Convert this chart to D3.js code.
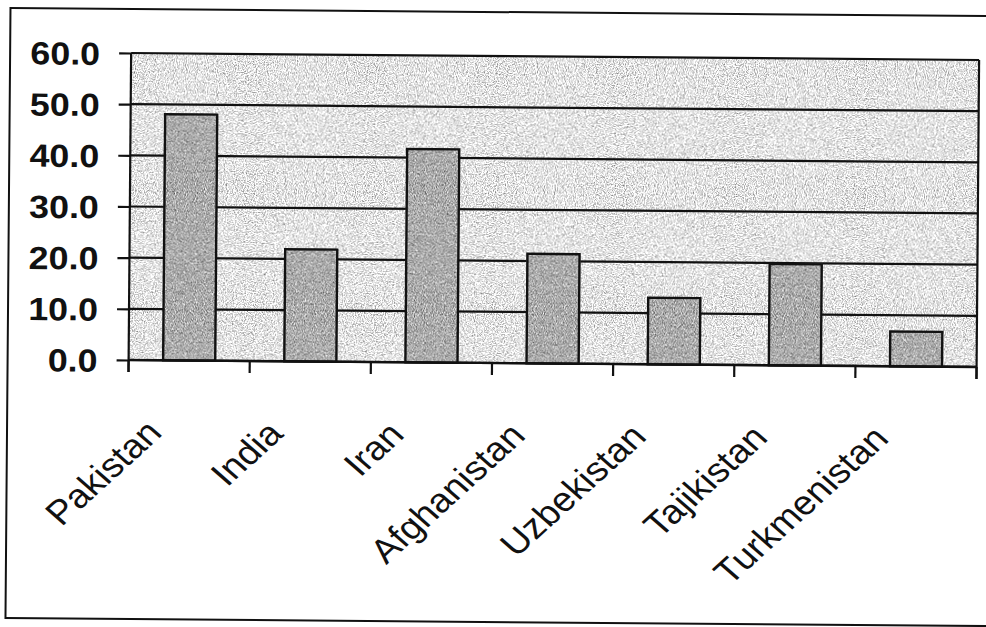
<!DOCTYPE html>
<html>
<head>
<meta charset="utf-8">
<script src="https://cdn.jsdelivr.net/npm/d3@7"></script>
<style>
  html, body { margin: 0; padding: 0; background: #ffffff; }
  svg { display: block; }
</style>
</head>
<body>
<svg id="chart" width="986" height="627"></svg>
<script>
// Country shares, percent
const categories = ["Pakistan", "India", "Iran", "Afghanistan", "Uzbekistan", "Tajikistan", "Turkmenistan"];
const values = [48.1, 21.9, 41.7, 21.4, 13.0, 19.8, 6.8];
const yTicks = [0, 10, 20, 30, 40, 50, 60];

const W = 986, H = 627;
const plot = { left: 129, right: 977, top: 56, bottom: 363 };
const stretch = 1.12;   // printed type runs a little wide
const fontFamily = "'Liberation Sans', Arial, sans-serif";

const svg = d3.select("#chart");

// grainy halftone fills
const defs = svg.append("defs");
function grain(id, mean, spread, seed) {
  const f = defs.append("filter").attr("id", id)
    .attr("x", 0).attr("y", 0).attr("width", 1).attr("height", 1)
    .attr("color-interpolation-filters", "sRGB");
  f.append("feTurbulence")
    .attr("type", "fractalNoise").attr("baseFrequency", 0.9)
    .attr("numOctaves", 2).attr("seed", seed).attr("result", "noise");
  const m = `${spread} 0 0 0 ${mean - spread / 2}`;
  f.append("feColorMatrix").attr("in", "noise").attr("type", "matrix")
    .attr("values", `${m} ${m} ${m} 0 0 0 0 1`);
}
grain("bgGrain", 0.89, 1.2, 3);
grain("barGrain", 0.67, 1.2, 7);

// whole sheet sits slightly askew on the page
const sheet = svg.append("g").attr("transform", `rotate(0.47 ${W / 2} ${H / 2})`);

// outer frame
sheet.append("rect")
  .attr("x", 8).attr("y", 12)
  .attr("width", 1010).attr("height", 610)
  .attr("fill", "none")
  .attr("stroke", "#111").attr("stroke-width", 2);

const x = d3.scaleBand()
  .domain(categories)
  .range([plot.left, plot.right])
  .paddingInner(0.57)
  .paddingOuter(0.285);

const y = d3.scaleLinear()
  .domain([0, 60])
  .range([plot.bottom, plot.top]);

// plot area background
sheet.append("rect")
  .attr("x", plot.left).attr("y", plot.top)
  .attr("width", plot.right - plot.left)
  .attr("height", plot.bottom - plot.top)
  .attr("fill", "#dcdcdc")
  .attr("filter", "url(#bgGrain)");

// horizontal gridlines and the frame's right edge
sheet.append("g")
  .selectAll("line")
  .data(yTicks)
  .join("line")
  .attr("x1", plot.left).attr("x2", plot.right)
  .attr("y1", d => y(d)).attr("y2", d => y(d))
  .attr("stroke", "#111").attr("stroke-width", 2.2);

sheet.append("line")
  .attr("x1", plot.right).attr("x2", plot.right)
  .attr("y1", plot.top).attr("y2", plot.bottom + 12)
  .attr("stroke", "#111").attr("stroke-width", 2.2);

// bars: grainy fill, then a crisp outline
const barG = sheet.append("g");
barG.selectAll("rect.fill")
  .data(categories)
  .join("rect")
  .attr("class", "fill")
  .attr("x", d => x(d))
  .attr("width", x.bandwidth())
  .attr("y", (d, i) => y(values[i]))
  .attr("height", (d, i) => y(0) - y(values[i]))
  .attr("fill", "#a8a8a8")
  .attr("filter", "url(#barGrain)");
barG.selectAll("rect.edge")
  .data(categories)
  .join("rect")
  .attr("class", "edge")
  .attr("x", d => x(d))
  .attr("width", x.bandwidth())
  .attr("y", (d, i) => y(values[i]))
  .attr("height", (d, i) => y(0) - y(values[i]))
  .attr("fill", "none")
  .attr("stroke", "#111").attr("stroke-width", 2.4);

// y axis
const yAxis = d3.axisLeft(y)
  .tickValues(yTicks)
  .tickFormat(d3.format(".1f"))
  .tickSize(12)
  .tickPadding(0);

const yg = sheet.append("g")
  .attr("transform", `translate(${plot.left},0)`)
  .call(yAxis);
yg.select(".domain").attr("stroke", "#111").attr("stroke-width", 2.2)
  .attr("d", `M0,${plot.top}V${plot.bottom + 12}`);
yg.selectAll(".tick line").attr("stroke", "#111").attr("stroke-width", 2.2);
yg.selectAll(".tick text")
  .attr("x", -31 / stretch)
  .attr("dy", "0.36em")
  .attr("transform", `scale(${stretch},1)`)
  .attr("fill", "#111")
  .style("font-family", fontFamily)
  .style("font-weight", "bold")
  .style("font-size", "32px");

// x axis: ticks on category boundaries, slanted names
const boundaries = d3.range(categories.length + 1)
  .map(i => plot.left + i * (plot.right - plot.left) / categories.length);

sheet.append("g")
  .selectAll("line")
  .data(boundaries)
  .join("line")
  .attr("x1", d => d).attr("x2", d => d)
  .attr("y1", plot.bottom).attr("y2", plot.bottom + 12)
  .attr("stroke", "#111").attr("stroke-width", 2.2);

sheet.append("line")
  .attr("x1", plot.left).attr("x2", plot.right)
  .attr("y1", plot.bottom).attr("y2", plot.bottom)
  .attr("stroke", "#111").attr("stroke-width", 2.4);

sheet.append("g")
  .selectAll("text")
  .data(categories)
  .join("text")
  .attr("transform", d => `translate(${x(d) + x.bandwidth() / 2 - 25},${plot.bottom + 74}) scale(${stretch},1) rotate(-46)`)
  .attr("text-anchor", "end")
  .attr("fill", "#111")
  .style("font-family", fontFamily)
  .style("font-size", "34px")
  .text(d => d);
</script>
</body>
</html>
